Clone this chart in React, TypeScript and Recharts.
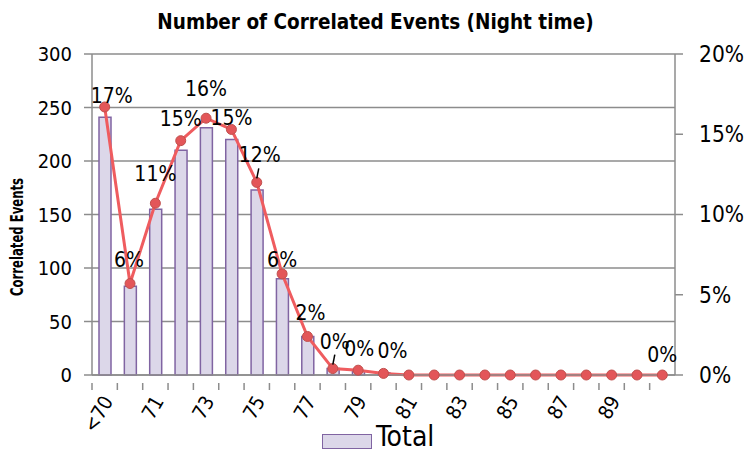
import { ComposedChart, Bar, Line, XAxis, YAxis, CartesianGrid, LabelList, Label } from "recharts"

const categories = [
  "<70", "70", "71", "72", "73", "74", "75", "76", "77", "78", "79", "80",
  "81", "82", "83", "84", "85", "86", "87", "88", "89", "90", "91",
]

const totals = [241, 83, 155, 210, 231, 220, 173, 90, 36, 6, 4, 2, 0, 0, 0, 0, 0, 0, 0, 0, 0, 0, 0]

const shares = [
  0.167, 0.057, 0.107, 0.146, 0.16, 0.153, 0.12, 0.063, 0.024, 0.004, 0.003, 0.001,
  0, 0, 0, 0, 0, 0, 0, 0, 0, 0, 0,
]

const tickLabels = ["<70", "71", "73", "75", "77", "79", "81", "83", "85", "87", "89"]
const leftTicks = [0, 50, 100, 150, 200, 250, 300]
const rightTicks = [0, 0.05, 0.1, 0.15, 0.2]

const data = categories.map((name, i) => ({ name, total: totals[i], share: shares[i] }))

// hand placed data labels, like the original
const labelSpots: Record<number, [number, number, boolean?]> = {
  0: [7, -11],
  1: [-1, -24],
  2: [0, -29],
  3: [0, -22],
  4: [0, -29],
  5: [0, -11],
  6: [3, -27, true],
  7: [0, -14],
  8: [3, -23],
  9: [2, -27, true],
  10: [1, -21],
  11: [9, -22],
  22: [0, -20],
}

const FONT = "'DejaVu Sans Condensed', 'DejaVu Sans', sans-serif"
const GRAY = "#8c8c8c"

function XTick(props: any) {
  const { x, y, payload } = props
  const half = payload.offset ?? 12.7
  return (
    <g transform={`translate(${x},${y})`}>
      <line x1={-half} y1={0} x2={-half} y2={7} stroke={GRAY} strokeWidth={1.5} />
      {tickLabels.includes(payload.value) && (
        <text
          x={9}
          y={18}
          textAnchor="end"
          transform="rotate(-60 9 18)"
          fontSize={20}
          fontFamily={FONT}
          fill="#000"
        >
          {payload.value}
        </text>
      )}
    </g>
  )
}

function PctLabel(props: any) {
  const { x, y, value, index } = props
  const spot = labelSpots[index]
  if (!spot) return null
  const [dx, dy, leader] = spot
  return (
    <g>
      {leader && <line x1={x} y1={y - 4} x2={x + 2} y2={y - 14} stroke="#000" strokeWidth={1.5} />}
      <text
        x={x + dx}
        y={y + dy}
        textAnchor="middle"
        dominantBaseline="central"
        fontSize={21}
        fontFamily={FONT}
        fill="#000"
      >
        {Math.round(value * 100) + "%"}
      </text>
    </g>
  )
}

export default function App() {
  return (
    <div style={{ position: "absolute", left: 0, top: 0, width: 751, height: 452, background: "#fff", fontFamily: FONT }}>
      <div
        style={{
          position: "absolute",
          left: 0,
          top: 10,
          width: 751,
          textAlign: "center",
          fontSize: 20.5,
          fontWeight: "bold",
          color: "#000",
        }}
      >
        Number of Correlated Events (Night time)
      </div>
      <ComposedChart
        width={751}
        height={452}
        data={data}
        margin={{ top: 54, right: 0, bottom: 0, left: 0 }}
        barCategoryGap={0}
      >
        <CartesianGrid yAxisId="left" vertical={false} stroke={GRAY} strokeWidth={1.5} />
        <XAxis
          dataKey="name"
          height={77}
          interval={0}
          tick={<XTick />}
          tickLine={false}
          axisLine={{ stroke: GRAY, strokeWidth: 1.5 }}
        />
        <YAxis
          yAxisId="left"
          width={92}
          domain={[0, 300]}
          ticks={leftTicks}
          tickSize={8}
          tickMargin={12}
          tick={{ fontSize: 20, fill: "#000", fontFamily: FONT }}
          tickLine={{ stroke: GRAY, strokeWidth: 1.5 }}
          axisLine={{ stroke: GRAY, strokeWidth: 1.5 }}
        >
          <Label
            content={() => (
              <text
                x={23}
                y={237}
                transform="rotate(-90 23 237)"
                textAnchor="middle"
                fontSize={17}
                fontWeight="bold"
                fontFamily={FONT}
                fill="#000"
                textLength={118}
                lengthAdjust="spacingAndGlyphs"
              >
                Correlated Events
              </text>
            )}
          />
        </YAxis>
        <YAxis
          yAxisId="right"
          orientation="right"
          width={76}
          domain={[0, 0.2]}
          ticks={rightTicks}
          tickSize={8}
          tickMargin={16}
          tickFormatter={(v: number) => Math.round(v * 100) + "%"}
          tick={{ fontSize: 22.5, fill: "#000", fontFamily: FONT, textAnchor: "start" }}
          tickLine={{ stroke: GRAY, strokeWidth: 1.5 }}
          axisLine={{ stroke: GRAY, strokeWidth: 1.5 }}
        />
        <Bar
          yAxisId="left"
          dataKey="total"
          barSize={12}
          fill="#dcd7e9"
          stroke="#8064a2"
          strokeWidth={1.5}
          isAnimationActive={false}
        />
        <Line
          yAxisId="right"
          dataKey="share"
          stroke="#ef5c5f"
          strokeWidth={3}
          dot={{ r: 5, fill: "#e35659", stroke: "#c0504d", strokeWidth: 1 }}
          isAnimationActive={false}
        >
          <LabelList dataKey="share" content={<PctLabel />} />
        </Line>
      </ComposedChart>
      <div style={{ position: "absolute", left: 322, top: 434, width: 48, height: 13, background: "#dcd7e9", border: "1.5px solid #8064a2" }} />
      <div style={{ position: "absolute", left: 376, top: 420, fontSize: 28, lineHeight: "34px", color: "#000" }}>Total</div>
    </div>
  )
}
